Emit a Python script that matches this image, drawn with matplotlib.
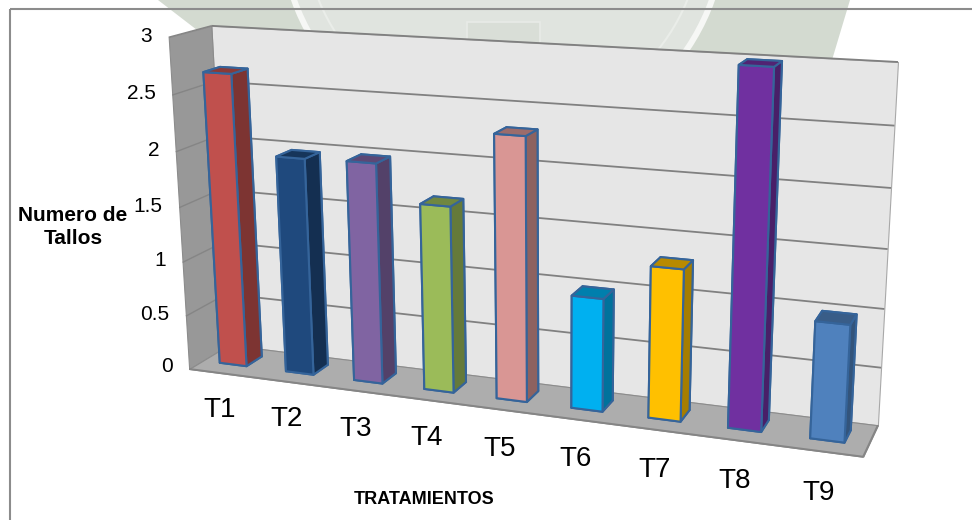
import numpy as np
import matplotlib
matplotlib.use('Agg')
import matplotlib.pyplot as plt
from matplotlib.patches import Rectangle, Polygon, Circle
from mpl_toolkits.mplot3d import proj3d
from mpl_toolkits.mplot3d.art3d import Poly3DCollection, Line3DCollection

plt.rcParams['font.family'] = ['Liberation Sans', 'DejaVu Sans']

# Number of stems per treatment
categories = ['T1', 'T2', 'T3', 'T4', 'T5', 'T6', 'T7', 'T8', 'T9']
values = [2.67, 1.97, 1.98, 1.66, 2.31, 0.99, 1.31, 2.99, 0.99]
z_ticks = [0, 0.5, 1, 1.5, 2, 2.5, 3]
z_tick_labels = ['0', '0.5', '1', '1.5', '2', '2.5', '3']
front_colors = ['#C0504D', '#1F497D', '#8064A2', '#9BBB59', '#D99694',
                '#00B0F0', '#FFC000', '#7030A0', '#4F81BD']

W, H = 972, 520
BAR_X0 = 0.26
BAR_STEP = 1.006
BAR_W = 0.41
BAR_Y0 = 0.34
BAR_D = 0.40
EDGE = '#35649A'


def camera_matrix():
    # world corners of the plot box and where they land on the canvas
    world = np.array([[0, 0, 3], [0, 1, 3], [9, 1, 3], [9, 1, 0],
                      [0, 1, 0], [0, 0, 0], [9, 0, 0]], dtype=float)
    screen = np.array([[169, 37], [211, 26], [898, 62], [878, 425],
                       [229, 345], [189, 369], [863, 457]], dtype=float)
    rows, rhs = [], []
    for (x, y, z), (u, v) in zip(world, screen):
        rows.append([x, y, z, 1, 0, 0, 0, 0, -u * x, -u * y, -u * z])
        rhs.append(u)
        rows.append([0, 0, 0, 0, x, y, z, 1, -v * x, -v * y, -v * z])
        rhs.append(v)
    p = np.linalg.lstsq(np.array(rows), np.array(rhs), rcond=None)[0]
    row_w = np.array([p[8], p[9], p[10], 1.0])
    # third row makes depth grow away from the viewer
    row_d = row_w - np.array([0, 0, 0, 1.0])
    return np.array([p[:4], p[4:8], row_d, row_w])


def darker(color, f):
    return tuple(c * f for c in matplotlib.colors.to_rgb(color))


fig = plt.figure(figsize=(9.72, 5.2), dpi=100)

# faint seal behind the frame
bg = fig.add_axes([0, 0, 1, 1])
bg.set_xlim(0, W)
bg.set_ylim(H, 0)
bg.axis('off')
seal = Polygon([(158, 0), (850, 0), (832, 60), (210, 40)], fc='#D3DAD0', lw=0)
bg.add_patch(seal)
for r, fc in [(225, '#F6F7F5'), (219, '#E0E4DF')]:
    disc = Circle((503, -75), r, fc=fc, lw=0)
    bg.add_patch(disc)
    disc.set_clip_path(seal)
bg.add_patch(Circle((503, -75), 199, fc='none', ec='#EAEDE9', lw=1.5))
bg.add_patch(Rectangle((467, 22), 73, 22, fc='#D9DED7', ec='#E8EBE7', lw=1.2))
bg.add_patch(Rectangle((10, 9), 980, 540, fc='none', ec='#8C8C8C', lw=1.5))

ax = fig.add_axes([0, 0, 1, 1], projection='3d', computed_zorder=False)
ax.patch.set_alpha(0)
ax.set_axis_off()
ax.set_xticks([])
ax.set_yticks([])
ax.set_zticks([])
M = camera_matrix()
ax.get_proj = lambda: M
ax.apply_aspect = lambda position=None: None
ax.viewLim.intervalx = (0, W)
ax.viewLim.intervaly = (H, 0)

# walls and floor
left_wall = [[(0, 0, 0), (0, 1, 0), (0, 1, 3), (0, 0, 3)]]
back_wall = [[(0, 1, 0), (9, 1, 0), (9, 1, 3), (0, 1, 3)]]
floor = [[(0, 0, 0), (9, 0, 0), (9, 1, 0), (0, 1, 0)]]
for verts, fc, ec in [(back_wall, '#E6E6E6', '#A8A8A8'),
                      (left_wall, '#989898', '#8C8C8C'),
                      (floor, '#ADADAD', '#8C8C8C')]:
    ax.add_collection3d(Poly3DCollection(verts, facecolors=fc, edgecolors=ec,
                                         linewidths=0.8, zorder=1))

# gridlines wrap round the left wall and the back wall
grid_back = [[(0, 1, t), (9, 1, t)] for t in z_ticks[1:]]
grid_left = [[(0, 0, t), (0, 1, t)] for t in z_ticks[1:]]
ax.add_collection3d(Line3DCollection(grid_back, colors='#808080', linewidths=1.3, zorder=2))
ax.add_collection3d(Line3DCollection(grid_left, colors='#858585', linewidths=1.0, zorder=2))
ax.add_collection3d(Line3DCollection([[(0, 0, 0), (9, 0, 0)], [(9, 0, 0), (9, 1, 0)]],
                                     colors='#858585', linewidths=1.4, zorder=2))

for i, (v, c) in enumerate(zip(values, front_colors)):
    side = darker(c, 0.65)
    top = darker(c, 0.72)
    # faces: bottom, top, front, back, left, right
    bars = ax.bar3d(i * BAR_STEP + BAR_X0, BAR_Y0, 0, BAR_W, BAR_D, v, shade=False,
                    color=[c, top, c, side, side, side], edgecolor=EDGE, linewidth=1.5)
    bars.set_zorder(3 + i)

# axis labels sit on the canvas at their projected positions
for t, lab in zip(z_ticks, z_tick_labels):
    u, v, _ = proj3d.proj_transform(-0.25, 0, t, M)
    bg.text(u, v, lab, fontsize=15, ha='right', va='center', color='black')
for i, lab in enumerate(categories):
    u, v, _ = proj3d.proj_transform(i * 0.992 + 0.62, -0.3, -0.26, M)
    bg.text(u, v, lab, fontsize=20, ha='center', va='center', color='black')

bg.text(73, 227, 'Numero de\nTallos', fontsize=15, fontweight='bold', ha='center',
        va='center', linespacing=1.32)
bg.text(424, 500, 'TRATAMIENTOS', fontsize=13, fontweight='bold', ha='center', va='center')

fig.savefig('out.png', dpi=100)
